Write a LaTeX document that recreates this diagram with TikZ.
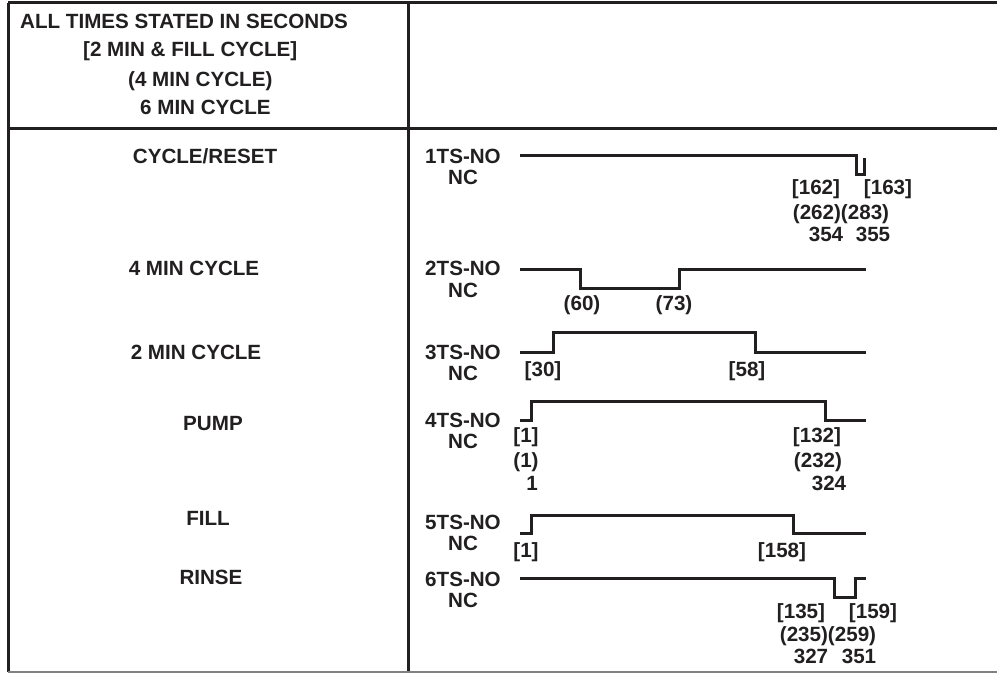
\documentclass[tikz,border=0pt]{standalone}
\usepackage{fontspec}
\setmainfont{Liberation Sans}
\usepackage{tkz-euclide}
\definecolor{InkClr}{rgb}{0.13,0.12,0.12}

\begin{document}
\begin{tikzpicture}[x=1pt,y=-1pt,
  lbl/.style={anchor=base,inner sep=0pt,text=InkClr,font=\fontsize{20.6}{24}\selectfont\bfseries},
  hdr/.style={lbl,anchor=base west},
  wave/.style={line width=3pt,color=InkClr,line join=miter}]
\useasboundingbox (0,0) rectangle (997,674);

% table frame
\tkzDefPoints{8/3/TL,408/3/TM,997/3/TR,8/129/ML,997/129/MR,8/672/BL,408/672/BM,997/672/BR}
\draw[wave] (TL) -- (TR) (ML) -- (MR) (TL) -- (BL) (TM) -- (BM);
\draw[line width=2pt,color=gray] (BL) -- (BR);

% header
\node[hdr] (hdAll) at (20,29) {ALL TIMES STATED IN SECONDS};
\node[hdr] (hdTwo) at (83,57) {[2 MIN \& FILL CYCLE]};
\node[hdr] (hdFour) at (128,87) {(4 MIN CYCLE)};
\node[hdr] (hdSix) at (140,115) {6 MIN CYCLE};

% functions
\node[lbl] (fnReset) at (205,164) {CYCLE/RESET};
\node[lbl] (fnFour) at (194,275) {4 MIN CYCLE};
\node[lbl] (fnTwo) at (196,359) {2 MIN CYCLE};
\node[lbl] (fnPump) at (213,430) {PUMP};
\node[lbl] (fnFill) at (208,525) {FILL};
\node[lbl] (fnRinse) at (211,584) {RINSE};

% switches
\foreach \n/\y in {1/164,2/276,3/359,4/427,5/529,6/586}{
  \node[lbl] (ts\n) at (463,\y) {\n TS-NO};
  \node[lbl] (nc\n) at (463,\y+21) {NC};
}

% 1TS
\tkzDefPoints{520/156/A1,856/156/A2,856/175/A3,864/175/A4,864/158/A5}
\draw[wave] (A1) -- (A2) -- (A3) -- (A4) -- (A5);
\node[lbl] (tA) at (816,195) {[162]};
\node[lbl] (tB) at (888,195) {[163]};
\node[lbl] (tC) at (841,219) {(262)(283)};
\node[lbl] (tD) at (826,242) {354};
\node[lbl] (tE) at (873,242) {355};

% 2TS
\tkzDefPoints{520/269/B1,580/269/B2,580/288/B3,679/288/B4,679/269/B5,866/269/B6}
\draw[wave] (B1) -- (B2) -- (B3) -- (B4) -- (B5) -- (B6);
\node[lbl] (tF) at (582,310) {(60)};
\node[lbl] (tG) at (674,310) {(73)};

% 3TS
\tkzDefPoints{520/352/C1,553/352/C2,553/332/C3,755/332/C4,755/352/C5,866/352/C6}
\draw[wave] (C1) -- (C2) -- (C3) -- (C4) -- (C5) -- (C6);
\node[lbl] (tH) at (543,376) {[30]};
\node[lbl] (tI) at (747,376) {[58]};

% 4TS
\tkzDefPoints{520/420/D1,531/420/D2,531/401/D3,825/401/D4,825/420/D5,866/420/D6}
\draw[wave] (D1) -- (D2) -- (D3) -- (D4) -- (D5) -- (D6);
\node[lbl] (tJ) at (526,442) {[1]};
\node[lbl] (tK) at (526,467) {(1)};
\node[lbl] (tL) at (532,490) {1};
\node[lbl] (tM) at (817,442) {[132]};
\node[lbl] (tN) at (818,467) {(232)};
\node[lbl] (tO) at (829,490) {324};

% 5TS
\tkzDefPoints{520/533/E1,531/533/E2,531/515/E3,793/515/E4,793/533/E5,866/533/E6}
\draw[wave] (E1) -- (E2) -- (E3) -- (E4) -- (E5) -- (E6);
\node[lbl] (tP) at (526,557) {[1]};
\node[lbl] (tQ) at (782,557) {[158]};

% 6TS
\tkzDefPoints{520/578/F1,834/578/F2,834/597/F3,855/597/F4,855/578/F5,866/578/F6}
\draw[wave] (F1) -- (F2) -- (F3) -- (F4) -- (F5) -- (F6);
\node[lbl] (tR) at (801,618) {[135]};
\node[lbl] (tS) at (873,618) {[159]};
\node[lbl] (tT) at (828,641) {(235)(259)};
\node[lbl] (tU) at (811,663) {327};
\node[lbl] (tV) at (859,663) {351};

\end{tikzpicture}
\end{document}
